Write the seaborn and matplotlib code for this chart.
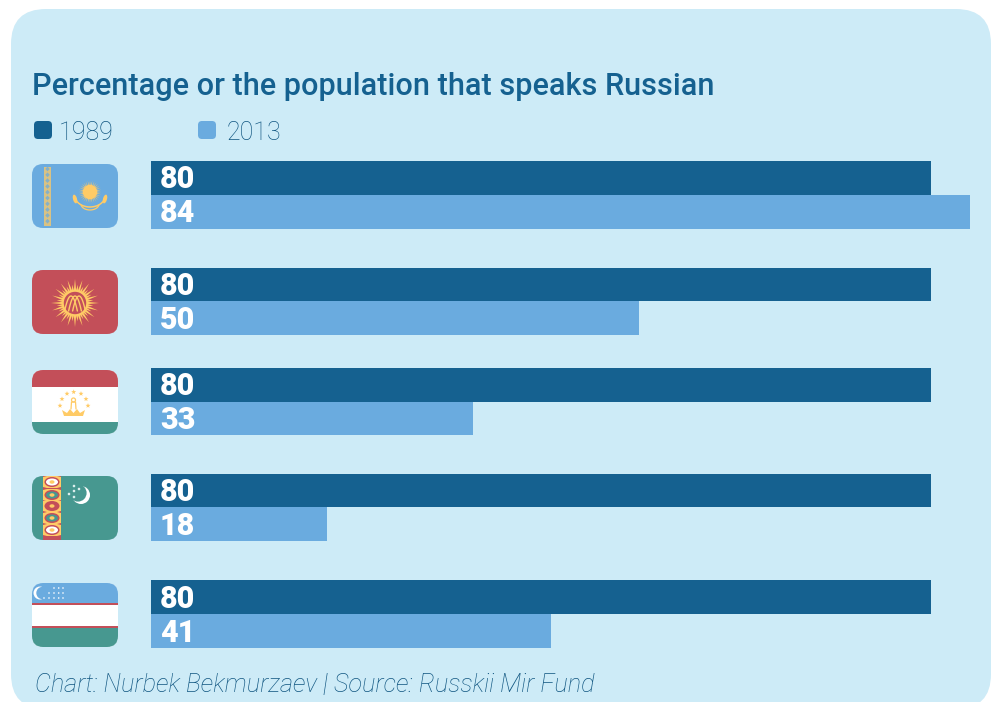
import numpy as np
import pandas as pd
import seaborn as sns
import matplotlib
matplotlib.use('Agg')
import matplotlib.pyplot as plt
from matplotlib.patches import Circle, Ellipse, FancyBboxPatch, Rectangle, Polygon

# Data
countries = ['Kazakhstan', 'Kyrgyzstan', 'Tajikistan', 'Turkmenistan', 'Uzbekistan']
years = ['1989', '2013']
speakers_1989 = [80, 80, 80, 80, 80]
speakers_2013 = [84, 50, 33, 18, 41]

# Colours
PANEL = '#CDEBF7'
DARK = '#156190'
LIGHT = '#6AABDF'
RED = '#C34F59'
TEAL = '#479890'
YELLOW = '#FFCB66'

W, H = 996, 702
sns.set_theme(style='white')
plt.rcParams['font.family'] = ['Roboto', 'DejaVu Sans']

df = pd.DataFrame({'country': countries, '1989': speakers_1989, '2013': speakers_2013})
df = df.melt(id_vars='country', var_name='year', value_name='share')

fig = plt.figure(figsize=(W / 100, H / 100), dpi=100, facecolor='white')

# full size overlay in pixel coordinates, for the panel, texts and flags
bg = fig.add_axes([0, 0, 1, 1], zorder=0)
bg.set_xlim(0, W)
bg.set_ylim(H, 0)
bg.axis('off')

bg.add_patch(FancyBboxPatch((11, 9), 980, 700, boxstyle='round,pad=0,rounding_size=35',
                            fc=PANEL, ec='none'))

bg.text(32, 95, 'Percentage or the population that speaks Russian', fontsize=22.1,
        fontweight='medium', color=DARK, va='baseline')
bg.text(35, 692, 'Chart: Nurbek Bekmurzaev | Source: Russkii Mir Fund', fontsize=18.2,
        fontweight='light', fontstyle='italic', color='#0F5580', va='baseline')

# legend
for x, tx, col, yr in [(34, 59, DARK, years[0]), (198, 227, LIGHT, years[1])]:
    bg.add_patch(FancyBboxPatch((x + 3, 124), 12, 12, boxstyle='round,pad=3,rounding_size=4',
                                fc=col, ec='none'))
    bg.text(tx, 139.5, yr, fontsize=18, fontweight='light', color='#0F5580', va='baseline')


# one axes per country, the rows are not quite evenly spaced
row_tops = [161, 268, 368, 474, 580]
row_heights = [68, 67, 67, 67, 68]
x0, x1 = 151, 991
px_per_unit = 9.75

for country, top, row_height in zip(countries, row_tops, row_heights):
    ax = fig.add_axes([x0 / W, 1 - (top + row_height) / H, (x1 - x0) / W, row_height / H], zorder=2)
    ax.patch.set_alpha(0)
    sns.barplot(data=df[df['country'] == country], x='share', y='country', hue='year',
                hue_order=years, palette=[DARK, LIGHT], width=1, gap=0, saturation=1,
                linewidth=0, edgecolor='none', legend=False, ax=ax)
    ax.set_xlim(0, (x1 - x0) / px_per_unit)
    ax.set_ylim(0.5, -0.5)
    ax.axis('off')
    for container in ax.containers:
        for bar in container:
            ax.annotate(f'{bar.get_width():.0f}', xy=(0, bar.get_y() + bar.get_height() / 2),
                        xytext=(9, -1.5), textcoords='offset pixels', color='white',
                        fontsize=22, fontweight='black', va='center', ha='left')


def flag_box(top, colour):
    box = FancyBboxPatch((32, top), 86, 64, boxstyle='round,pad=0,rounding_size=11',
                         fc=colour, ec='none', zorder=1)
    bg.add_patch(box)
    return box


def clipped(box, artist):
    bg.add_patch(artist)
    artist.set_clip_path(box)
    return artist


def sun_rays(cx, cy, r_in, r_out, n, colour, spread=0.07, alt=None):
    for i in range(n):
        a = 2 * np.pi * i / n
        r = r_out if (alt is None or i % 2 == 0) else alt
        pts = [(cx + r_in * np.cos(a - spread), cy + r_in * np.sin(a - spread)),
               (cx + r * np.cos(a), cy + r * np.sin(a)),
               (cx + r_in * np.cos(a + spread), cy + r_in * np.sin(a + spread))]
        bg.add_patch(Polygon(pts, fc=colour, ec='none', zorder=3))


def star(cx, cy, r, colour):
    pts = []
    for i in range(10):
        a = -np.pi / 2 + i * np.pi / 5
        rr = r if i % 2 == 0 else r * 0.42
        pts.append((cx + rr * np.cos(a), cy + rr * np.sin(a)))
    bg.add_patch(Polygon(pts, fc=colour, ec='none', zorder=3))


# Kazakhstan
box = flag_box(164, LIGHT)
clipped(box, Rectangle((44, 167), 7, 59, fc=YELLOW, ec='none', alpha=0.75, zorder=2))
for yy in np.arange(169, 226, 5.8):
    bg.add_patch(Polygon([(47.5, yy - 2.4), (49.7, yy), (47.5, yy + 2.4), (45.3, yy)],
                         fc=LIGHT, ec='none', alpha=0.75, zorder=3))
sun_rays(90, 192, 7, 11.5, 32, YELLOW, spread=0.05)
bg.add_patch(Circle((90, 192), 7.3, fc=YELLOW, ec='none', zorder=4))
t = np.linspace(0.15, np.pi - 0.15, 30)
bg.plot(90 + 15 * np.cos(t), 196 + 11 * np.sin(t), color=YELLOW, lw=1.1, zorder=3)
bg.plot(90 + 9 * np.cos(t), 204 + 6 * np.sin(t), color=YELLOW, lw=0.9, zorder=3)
bg.add_patch(Ellipse((75, 199), 4, 9, angle=-15, fc=YELLOW, ec='none', zorder=3))
bg.add_patch(Ellipse((105, 199), 4, 9, angle=15, fc=YELLOW, ec='none', zorder=3))

# Kyrgyzstan
box = flag_box(270, RED)
sun_rays(75, 303, 11, 24, 40, YELLOW, spread=0.12, alt=18.5)
bg.add_patch(Circle((75, 303), 13, fc=YELLOW, ec='none', zorder=4))
bg.add_patch(Circle((75, 303), 11.2, fc=RED, ec='none', zorder=5))
s = np.linspace(-8.5, 8.5, 30)
for off in [-5, 0, 5]:
    arc_y = 303 + 8 - 15 * (1 - (s / 8.5) ** 2)
    bg.plot(75 + off * 0.8 + s * 0.75, arc_y, color=YELLOW, lw=1.0, zorder=6)

# Tajikistan
box = flag_box(370, 'white')
clipped(box, Rectangle((32, 370), 86, 16.5, fc=RED, ec='none', zorder=2))
clipped(box, Rectangle((32, 422), 86, 12, fc=TEAL, ec='none', zorder=2))
for sx, sy in [(60, 405.7), (62, 399), (67, 393.7), (73.7, 392), (81, 393.7), (86, 399), (88, 405.7)]:
    star(sx, sy, 2.6, YELLOW)
bg.add_patch(Polygon([(64, 416), (83, 416), (85, 410), (80, 413), (77, 409), (73.5, 413),
                      (70, 409), (67, 413), (62, 410)], fc=YELLOW, ec='none', zorder=3))
t = np.linspace(0, 2 * np.pi, 40)
bg.plot(73.5 + 2 * np.cos(t), 400 + 2 * np.sin(t), color=YELLOW, lw=0.9, zorder=3)
bg.plot([71, 71.5, 75.5, 76], [409, 402, 402, 409], color=YELLOW, lw=0.9, zorder=3)

# Turkmenistan
box = flag_box(476, TEAL)
clipped(box, Rectangle((43, 476), 18, 64, fc=RED, ec='none', zorder=2))
guls = [(482, 'white'), (495, TEAL), (506, RED), (518, TEAL), (530, 'white')]
for gy, col in guls:
    bg.add_patch(Polygon([(43, gy - 5), (47, gy - 6), (57, gy - 6), (61, gy - 5), (61, gy + 5),
                          (57, gy + 6), (47, gy + 6), (43, gy + 5)], fc=YELLOW, ec='none', zorder=3))
    bg.add_patch(Ellipse((52, gy), 15, 10, fc=RED, ec='none', zorder=3))
    bg.add_patch(Ellipse((52, gy), 12, 7, fc=col, ec='none', zorder=4))
    bg.add_patch(Ellipse((52, gy), 5, 3.5, fc=YELLOW, ec='none', zorder=5))
bg.add_patch(Circle((81, 495), 9, fc='white', ec='none', zorder=3))
bg.add_patch(Circle((78, 493), 8.6, fc=TEAL, ec='none', zorder=4))
for sx, sy in [(74, 486), (79, 489), (74, 491), (69, 494), (74, 497)]:
    bg.add_patch(Circle((sx, sy), 1.3, fc='#DDEFEE', ec='none', zorder=5))

# Uzbekistan
box = flag_box(583, 'white')
clipped(box, Rectangle((32, 583), 86, 20, fc=LIGHT, ec='none', zorder=2))
clipped(box, Rectangle((32, 603), 86, 2, fc=RED, ec='none', zorder=3))
clipped(box, Rectangle((32, 626), 86, 2, fc=RED, ec='none', zorder=3))
clipped(box, Rectangle((32, 628), 86, 19, fc=TEAL, ec='none', zorder=2))
bg.add_patch(Circle((40, 593), 6.5, fc='white', ec='none', zorder=3))
bg.add_patch(Circle((42.5, 593), 6.2, fc=LIGHT, ec='none', zorder=4))
for yy, xs in [(588, [54, 58.7, 63]), (593, [49, 54, 58.7, 63]), (598, [44, 49, 54, 58.7, 63])]:
    for xx in xs:
        bg.add_patch(Circle((xx, yy), 0.8, fc='white', ec='none', zorder=5))

fig.savefig('out.png', dpi=100)
